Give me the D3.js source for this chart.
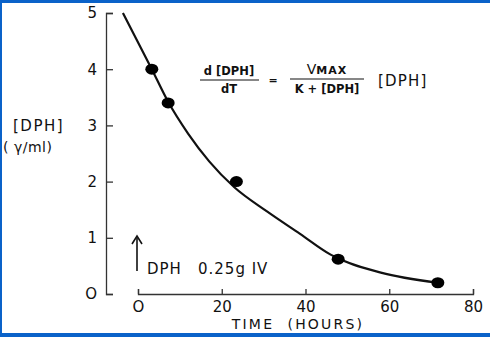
<!DOCTYPE html>
<html>
<head>
<meta charset="utf-8">
<script src="https://cdn.jsdelivr.net/npm/d3@7"></script>
<style>
  body { margin: 0; background: #fff; }
  svg text { font-family: "DejaVu Sans", sans-serif; fill: #111; }
</style>
</head>
<body>
<div id="chart"></div>
<script>
// measured samples (time in hours, DPH in γ/ml)
const sampleTime = [3.3, 7.2, 23.5, 47.8, 71.6];
const sampleConc = [4.0, 3.4, 2.0, 0.62, 0.2];

// fitted decay curve
const curveTime = [-3.6, 3.3, 7.2, 12, 17, 23, 30.8, 38.7, 46, 58, 71.6];
const curveConc = [5.0, 4.0, 3.42, 2.85, 2.36, 1.9, 1.47, 1.07, 0.7, 0.38, 0.2];

const xTicks = [0, 20, 40, 60, 80];
const yTicks = [0, 1, 2, 3, 4, 5];

const W = 490, H = 337;

var svg = d3.select('#chart').append('svg')
    .attr('width', W)
    .attr('height', H);

svg.append('rect').attr('width', W).attr('height', H).attr('fill', '#fff');

// blue frame of the slide
svg.append('rect').attr('x', 0).attr('y', 0).attr('width', W).attr('height', 3).attr('fill', '#0a62c9');
svg.append('rect').attr('x', 0).attr('y', 0).attr('width', 2).attr('height', H).attr('fill', '#0a62c9');
svg.append('rect').attr('x', 0).attr('y', 333).attr('width', W).attr('height', 4).attr('fill', '#0a62c9');

// scales
var xScale = d3.scaleLinear().domain([0, 80]).range([138, 473]);
var yScale = d3.scaleLinear().domain([0, 5]).range([294, 13]);

// y axis: ticks point inward, labels on the left
var yAxis = d3.axisLeft(yScale)
    .tickValues(yTicks)
    .tickSizeInner(-7)
    .tickSizeOuter(-7)
    .tickPadding(9)
    .tickFormat(d => d === 0 ? 'O' : d);

var yAxisGroup = svg.append('g')
    .attr('transform', 'translate(106,0)')
    .call(yAxis);

// x axis: ticks point up
var xAxis = d3.axisBottom(xScale)
    .tickValues(xTicks)
    .tickSizeInner(-5)
    .tickSizeOuter(-5)
    .tickPadding(7)
    .tickFormat(d => d === 0 ? 'O' : d);

var xAxisGroup = svg.append('g')
    .attr('transform', 'translate(0,294)')
    .call(xAxis);

[yAxisGroup, xAxisGroup].forEach(g => {
    g.select('.domain').attr('stroke', '#333').attr('stroke-width', 1.3);
    g.selectAll('.tick line').attr('stroke', '#333').attr('stroke-width', 1.3);
    g.selectAll('.tick text')
        .attr('font-size', 15)
        .attr('font-family', '"DejaVu Sans", sans-serif')
        .attr('fill', '#111');
});

// curve
var line = d3.line()
    .x((d, i) => xScale(curveTime[i]))
    .y(d => yScale(d))
    .curve(d3.curveMonotoneX);

svg.append('path')
    .datum(curveConc)
    .attr('d', line)
    .attr('fill', 'none')
    .attr('stroke', '#111')
    .attr('stroke-width', 2.2);

// data points
svg.selectAll('.dot')
    .data(sampleConc)
    .join('ellipse')
    .attr('class', 'dot')
    .attr('cx', (d, i) => xScale(sampleTime[i]))
    .attr('cy', d => yScale(d))
    .attr('rx', 6.5)
    .attr('ry', 5.5)
    .attr('fill', '#000');

// y axis label
svg.append('text').attr('x', 13).attr('y', 131).attr('font-size', 15).attr('letter-spacing', 1.5).text('[DPH]');
svg.append('text').attr('x', 3).attr('y', 152).attr('font-size', 14).attr('letter-spacing', 0.5).text('( γ/ml)');

// x axis label
svg.append('text')
    .attr('x', 298).attr('y', 329)
    .attr('text-anchor', 'middle')
    .attr('font-size', 14)
    .attr('letter-spacing', 2.2)
    .attr('xml:space', 'preserve')
    .text('TIME  (HOURS)');

// dose arrow
svg.append('line')
    .attr('x1', 137).attr('y1', 271).attr('x2', 137).attr('y2', 238)
    .attr('stroke', '#111').attr('stroke-width', 1.6);
svg.append('path')
    .attr('d', 'M132,244 L137,236 L142,244')
    .attr('fill', 'none').attr('stroke', '#111').attr('stroke-width', 1.6);
svg.append('text')
    .attr('x', 147).attr('y', 274)
    .attr('font-size', 15)
    .attr('letter-spacing', 1)
    .text('DPH');
svg.append('text')
    .attr('x', 198).attr('y', 274)
    .attr('font-size', 15)
    .attr('letter-spacing', 1)
    .text('0.25g IV');

// rate equation
var eq = svg.append('g').attr('font-weight', 'bold');
eq.append('text').attr('x', 229).attr('y', 75).attr('text-anchor', 'middle').attr('font-size', 11.5).text('d [DPH]');
eq.append('line').attr('x1', 200).attr('x2', 259).attr('y1', 80).attr('y2', 80).attr('stroke', '#111').attr('stroke-width', 1.2);
eq.append('text').attr('x', 229).attr('y', 93).attr('text-anchor', 'middle').attr('font-size', 11.5).text('dT');
eq.append('text').attr('x', 273).attr('y', 84).attr('text-anchor', 'middle').attr('font-size', 11).text('=');

var vmax = eq.append('text').attr('x', 327).attr('y', 74).attr('text-anchor', 'middle');
vmax.append('tspan').attr('font-size', 14).attr('font-weight', 'normal').text('V');
vmax.append('tspan').attr('font-size', 11).attr('letter-spacing', 1).text('MAX');

eq.append('line').attr('x1', 290).attr('x2', 364).attr('y1', 79).attr('y2', 79).attr('stroke', '#111').attr('stroke-width', 1.2);
eq.append('text').attr('x', 327).attr('y', 93).attr('text-anchor', 'middle').attr('font-size', 11.5).text('K + [DPH]');

svg.append('text').attr('x', 378).attr('y', 86).attr('font-size', 15).attr('letter-spacing', 1.2).text('[DPH]');
</script>
</body>
</html>
